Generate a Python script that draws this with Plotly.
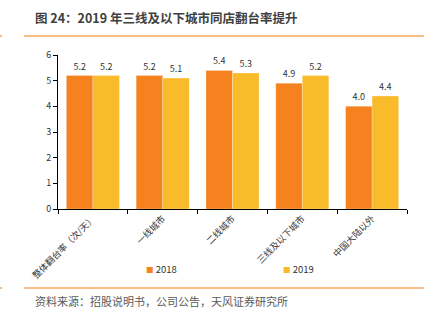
import plotly.graph_objects as go

categories = ["整体翻台率（次/天）", "一线城市", "二线城市", "三线及以下城市", "中国大陆以外"]
turnover_2018 = [5.2, 5.2, 5.4, 4.9, 4.0]
turnover_2019 = [5.2, 5.1, 5.3, 5.2, 4.4]
series_names = ["2018", "2019"]
y_ticks = [0, 1, 2, 3, 4, 5, 6]

title_text = "图 24：2019 年三线及以下城市同店翻台率提升"
source_text = "资料来源：招股说明书，公司公告，天风证券研究所"

FONT = "Noto Sans CJK SC, Noto Sans, sans-serif"
colors = ["#F5821F", "#FABB2B"]

W, H = 429, 322
L, R, T, B = 58, 22, 55, 113


# Convert figure-pixel positions to paper (plot-area) fractions
def px_x(x):
    return (x - L) / (W - L - R)


def px_y(y):
    return (H - B - y) / (H - T - B)


fig = go.Figure()
for name, vals, col in zip(series_names, [turnover_2018, turnover_2019], colors):
    fig.add_trace(go.Bar(
        name=name, x=categories, y=vals, showlegend=False,
        marker=dict(color=col, line=dict(color="rgba(255,255,255,0.5)", width=0.5)),
        text=[f"{v:.1f}" for v in vals], textposition="outside",
        textfont=dict(size=9, color="#333333", family=FONT),
        cliponaxis=False,
    ))

# Compact legend: small coloured square followed by the series name
legend_notes = []
for name, col, lx in zip(series_names, colors, (144, 281)):
    legend_notes.append(dict(
        text=f"<span style='color:{col};font-size:7.5px'>■</span> {name}",
        x=px_x(lx), y=px_y(269), xref="paper", yref="paper",
        xanchor="left", yanchor="middle", showarrow=False,
        font=dict(size=9.5, color="#333333", family=FONT)))

fig.update_layout(
    width=W, height=H,
    margin=dict(l=L, r=R, t=T, b=B, autoexpand=False),
    paper_bgcolor="white", plot_bgcolor="white",
    barmode="group", bargap=0.24, bargroupgap=0,
    font=dict(family=FONT, size=9, color="#333333"),
    showlegend=False,
    xaxis=dict(showline=True, linecolor="#000000", linewidth=1,
               ticks="outside", ticklen=4, tickcolor="#000000", tickson="boundaries",
               tickangle=-45, tickfont=dict(size=9, color="#333333", family=FONT),
               showgrid=False, fixedrange=True, automargin=False),
    yaxis=dict(range=[0, 6], tickvals=y_ticks, showline=True, linecolor="#000000", linewidth=1,
               ticks="outside", ticklen=4, tickcolor="#000000",
               tickfont=dict(size=9, color="#333333", family=FONT),
               showgrid=False, zeroline=False, fixedrange=True, automargin=False),
    annotations=[
        dict(text=f"<b>{title_text}</b>", x=px_x(33), y=px_y(17), xref="paper", yref="paper",
             xanchor="left", yanchor="middle", showarrow=False,
             font=dict(size=12.5, color="#404040", family=FONT)),
        dict(text=source_text, x=px_x(33), y=px_y(301), xref="paper", yref="paper",
             xanchor="left", yanchor="middle", showarrow=False,
             font=dict(size=11, color="#595959", family=FONT)),
    ] + legend_notes,
)

for yy in (36, 288):
    fig.add_shape(type="line", xref="paper", yref="paper",
                  x0=px_x(24), x1=px_x(424), y0=px_y(yy), y1=px_y(yy),
                  line=dict(color="#F8A65C", width=1.5))
    fig.add_shape(type="line", xref="paper", yref="paper",
                  x0=px_x(0), x1=px_x(2), y0=px_y(yy), y1=px_y(yy),
                  line=dict(color="#F8A65C", width=1.5))

fig.write_html("out.html")
